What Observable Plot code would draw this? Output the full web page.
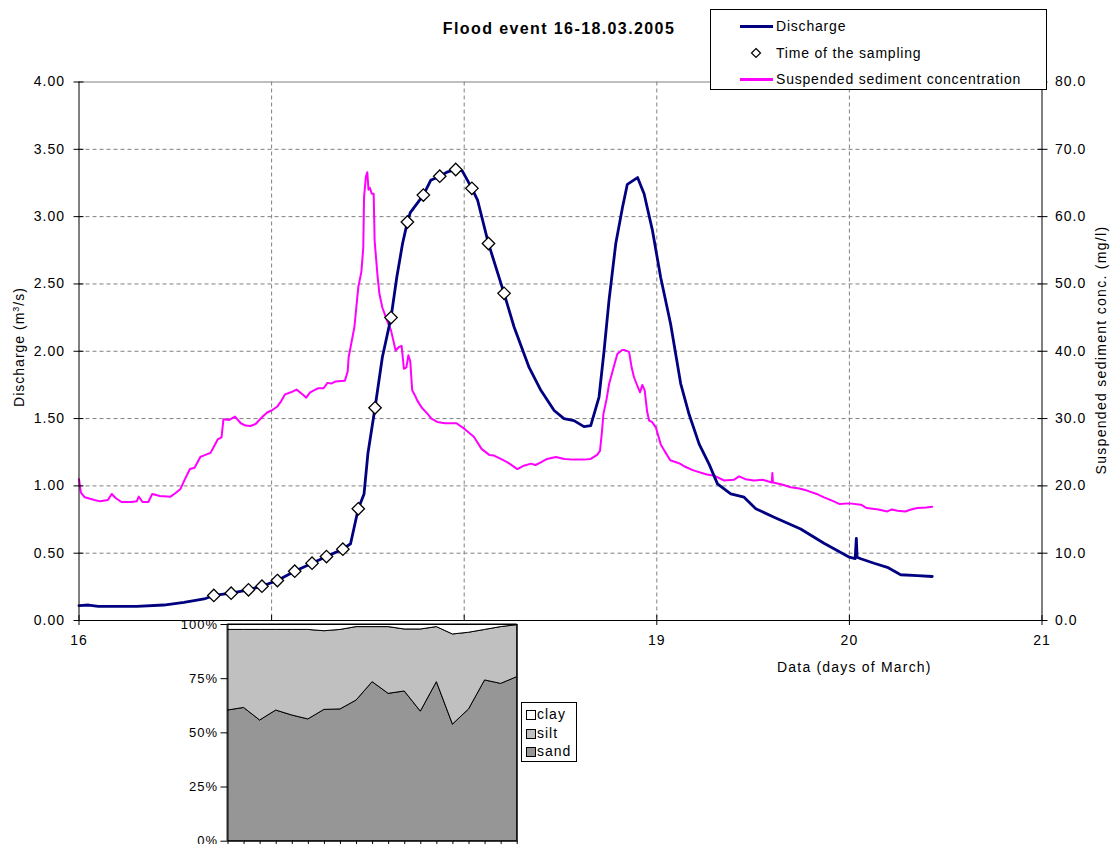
<!DOCTYPE html>
<html>
<head>
<meta charset="utf-8">
<script src="https://cdn.jsdelivr.net/npm/d3@7"></script>
<script src="https://cdn.jsdelivr.net/npm/@observablehq/plot@0.6"></script>
<style>
  html, body { margin: 0; padding: 0; background: white; }
  #wrap { position: relative; width: 1112px; height: 844px; overflow: hidden; font-family: "Liberation Sans", Arial, sans-serif; color: black; }
  .abs { position: absolute; white-space: nowrap; }
</style>
</head>
<body>
<div id="wrap"></div>
<script>
// ---------- Data ----------
// Discharge (m3/s)
const qDays = [16.00,16.05,16.10,16.30,16.44,16.545,16.65,16.70,16.79,16.88,16.95,17.03,17.12,17.21,17.285,17.37,17.41,17.45,17.48,17.50,17.537,17.575,17.62,17.65,17.68,17.705,17.72,17.788,17.826,17.873,17.91,17.956,17.99,18.04,18.07,18.126,18.207,18.259,18.337,18.398,18.467,18.518,18.57,18.622,18.657,18.70,18.726,18.752,18.787,18.822,18.847,18.90,18.934,18.977,19.02,19.072,19.124,19.168,19.22,19.272,19.315,19.384,19.453,19.514,19.609,19.747,19.868,20.00,20.03,20.036,20.04,20.059,20.128,20.197,20.266,20.353,20.43];
const qValues = [0.11,0.115,0.105,0.105,0.115,0.135,0.16,0.186,0.203,0.228,0.255,0.297,0.366,0.426,0.475,0.53,0.57,0.83,0.94,1.24,1.58,1.955,2.25,2.55,2.80,2.96,3.03,3.16,3.27,3.30,3.33,3.35,3.34,3.21,3.12,2.80,2.43,2.18,1.88,1.71,1.56,1.50,1.485,1.44,1.448,1.66,2.00,2.38,2.80,3.07,3.24,3.29,3.17,2.90,2.55,2.20,1.76,1.53,1.31,1.16,1.015,0.94,0.916,0.83,0.767,0.68,0.574,0.47,0.46,0.61,0.47,0.459,0.425,0.395,0.34,0.334,0.327];

// Time of the sampling
const sampleDays = [16.70,16.79,16.88,16.95,17.03,17.12,17.21,17.285,17.37,17.45,17.537,17.62,17.705,17.788,17.873,17.956,18.04,18.126,18.207];
const sampleQ = [0.186,0.203,0.228,0.255,0.297,0.366,0.426,0.475,0.53,0.83,1.58,2.25,2.96,3.16,3.30,3.35,3.21,2.80,2.43];

// Suspended sediment concentration (mg/l)
const sscDays = [16.00,16.01,16.03,16.08,16.11,16.15,16.17,16.19,16.22,16.27,16.30,16.31,16.33,16.36,16.38,16.42,16.475,16.50,16.527,16.55,16.576,16.60,16.63,16.683,16.70,16.72,16.74,16.75,16.78,16.81,16.84,16.865,16.89,16.917,16.95,16.977,17.00,17.03,17.05,17.07,17.10,17.13,17.16,17.18,17.20,17.24,17.27,17.29,17.31,17.33,17.38,17.395,17.40,17.43,17.45,17.466,17.476,17.48,17.49,17.497,17.503,17.51,17.52,17.53,17.535,17.55,17.56,17.575,17.60,17.62,17.644,17.66,17.675,17.687,17.70,17.71,17.72,17.73,17.745,17.756,17.78,17.81,17.83,17.86,17.90,17.96,18.00,18.05,18.09,18.13,18.155,18.19,18.225,18.25,18.276,18.31,18.346,18.37,18.398,18.43,18.476,18.52,18.57,18.62,18.657,18.69,18.705,18.715,18.723,18.74,18.752,18.77,18.795,18.82,18.83,18.856,18.87,18.882,18.90,18.913,18.925,18.937,18.95,18.96,18.975,18.995,19.02,19.04,19.07,19.10,19.12,19.15,19.19,19.26,19.30,19.35,19.40,19.427,19.46,19.505,19.55,19.597,19.60,19.603,19.65,19.695,19.74,19.78,19.83,19.868,19.91,19.95,20.00,20.06,20.09,20.15,20.197,20.22,20.25,20.29,20.32,20.353,20.40,20.43];
const sscValues = [21.0,19.0,18.3,17.9,17.7,17.9,18.8,18.2,17.6,17.6,17.7,18.4,17.6,17.6,18.8,18.5,18.4,18.9,19.55,21.0,22.5,22.7,24.3,24.9,25.8,26.9,27.2,29.9,29.8,30.3,29.3,28.96,28.9,29.2,30.2,30.9,31.2,31.8,32.6,33.6,33.9,34.3,33.6,33.1,33.9,34.5,34.5,35.3,35.2,35.5,35.6,37.0,39.1,43.6,49.5,51.8,55.4,62.9,66.0,66.6,64.0,64.3,63.4,63.4,56.4,51.2,48.5,46.5,44.5,43.1,40.1,40.6,40.8,37.4,37.6,39.4,38.5,34.2,33.4,32.7,31.6,30.7,30.0,29.5,29.3,29.3,28.5,27.3,25.5,24.6,24.5,24.0,23.5,23.0,22.5,23.0,23.3,23.1,23.5,24.0,24.3,24.0,23.9,23.9,24.0,24.6,25.2,28.0,30.7,33.0,35.1,37.0,39.6,40.2,40.2,39.9,37.5,36.1,34.8,33.9,35.0,34.2,31.0,29.7,29.5,28.7,26.2,25.2,23.8,23.5,23.3,22.8,22.3,21.7,21.5,20.8,20.9,21.4,21.0,20.8,20.9,20.5,21.9,20.5,20.2,19.8,19.6,19.3,18.8,18.3,17.8,17.3,17.4,17.2,16.7,16.5,16.2,16.5,16.3,16.2,16.5,16.7,16.8,16.9];

// Axis ticks
const qTicks = [0,0.5,1,1.5,2,2.5,3,3.5,4];
const dayTicks = [16,17,18,19,20,21];
const hiddenDayLabels = [17,18];   // covered by the inset chart in the original
const sscPerQ = 20;                // right axis 0-80 mg/l over left axis 0-4 m3/s

// Inset: grain size composition (%) for each of the 19 samples
const sampleIndex = d3.range(1, 20);
const sand = [60.3,61.5,55.7,60.3,58.0,56.2,60.6,60.8,64.9,73.4,68.0,69.1,59.8,73.4,53.8,60.8,74.2,72.6,75.7];
const silt = [37.2,36.0,41.8,37.2,39.5,41.3,36.3,36.7,33.9,25.4,30.8,28.6,37.9,25.4,41.6,35.4,23.3,26.2,24.0];
const clay = [2.5,2.5,2.5,2.5,2.5,2.5,3.1,2.5,1.2,1.2,1.2,2.3,2.3,1.2,4.6,3.8,2.5,1.2,0.3];
const fractions = ["sand", "silt", "clay"];
const pctTicks = [0,25,50,75,100];

// ---------- Build tables ----------
const qData = qDays.map((d, i) => ({day: d, q: qValues[i]}));
const sscData = sscDays.map((d, i) => ({day: d, ssc: sscValues[i]}));
const samples = sampleDays.map((d, i) => ({day: d, q: sampleQ[i]}));
const comp = [];
sampleIndex.forEach((k, i) => {
  comp.push({k, fraction: "sand", pct: sand[i]});
  comp.push({k, fraction: "silt", pct: silt[i]});
  comp.push({k, fraction: "clay", pct: clay[i]});
});

const fontStyle = {fontFamily: "'Liberation Sans', Arial, sans-serif", fontSize: "14px", letterSpacing: "1px", background: "white", overflow: "visible"};
const grid = {stroke: "#808080", strokeOpacity: 1, strokeDasharray: "4,3", strokeWidth: 1};

const main = Plot.plot({
  width: 1112, height: 844,
  marginLeft: 78.5, marginRight: 70.5, marginTop: 81.5, marginBottom: 224,
  x: {domain: [16, 21]},
  y: {domain: [0, 4]},
  style: fontStyle,
  marks: [
    Plot.gridY(qTicks.filter(d => d > 0 && d < 4), grid),
    Plot.gridX(dayTicks.filter(d => d > 16 && d < 21), grid),
    Plot.ruleY([4], {stroke: "#808080"}),
    Plot.line(sscData, {x: "day", y: d => d.ssc / sscPerQ, stroke: "#ff00ff", strokeWidth: 2}),
    Plot.line(qData, {x: "day", y: "q", stroke: "#000080", strokeWidth: 2.8}),
    Plot.dot(samples, {x: "day", y: "q", symbol: "diamond2", r: 5.6, fill: "white", stroke: "black", strokeWidth: 1.3}),
    Plot.ruleX([16, 21], {stroke: "black"}),
    Plot.ruleY([0], {stroke: "black"}),
    Plot.axisY(qTicks, {anchor: "left", tickSize: 10, dx: 5, tickPadding: 9, tickFormat: d => d.toFixed(2), label: null}),
    Plot.axisY(qTicks, {anchor: "right", tickSize: 10, dx: -5, tickPadding: 8, tickFormat: d => (d * sscPerQ).toFixed(1), label: null}),
    Plot.axisX(dayTicks, {anchor: "bottom", tickSize: 10, dy: -5, tickPadding: 10, tickFormat: d => hiddenDayLabels.includes(d) ? "" : String(d), label: null})
  ]
});

const wrap = document.getElementById("wrap");
main.style.position = "absolute";
main.style.left = "0px";
main.style.top = "0px";
wrap.appendChild(main);

// Inset chart
const inset = Plot.plot({
  width: 440, height: 223,
  marginLeft: 77.5, marginRight: 73.3, marginTop: 3, marginBottom: 3.3,
  x: {domain: [1, 19]},
  y: {domain: [0, 100]},
  color: {domain: fractions, range: ["#969696", "#c0c0c0", "#ffffff"]},
  style: {fontFamily: "'Liberation Sans', Arial, sans-serif", fontSize: "13px", letterSpacing: "1px", background: "white"},
  marks: [
    Plot.areaY(comp, {x: "k", y: "pct", z: "fraction", fill: "fraction", stroke: "black", strokeWidth: 1, order: fractions}),
    Plot.frame({stroke: "black"}),
    Plot.axisY(pctTicks, {anchor: "left", tickSize: 7, tickPadding: 3, tickFormat: d => d + "%", label: null}),
    Plot.axisX(sampleIndex, {anchor: "bottom", tickSize: 4, tickFormat: () => "", label: null})
  ]
});
inset.style.position = "absolute";
inset.style.left = "150px";
inset.style.top = "621px";
inset.style.overflow = "hidden";
wrap.appendChild(inset);

// ---------- Text overlays ----------
function addDiv(html, css) {
  const el = document.createElement("div");
  el.className = "abs";
  el.innerHTML = html;
  Object.assign(el.style, css);
  wrap.appendChild(el);
  return el;
}

addDiv("Flood event 16-18.03.2005", {left: "559px", top: "29px", transform: "translate(-50%,-50%)", fontSize: "16px", fontWeight: "bold", letterSpacing: "1.4px"});
addDiv("Discharge (m<sup style='font-size:9px;vertical-align:5px'>3</sup>/s)", {left: "19px", top: "347px", transform: "translate(-50%,-50%) rotate(-90deg)", fontSize: "14px", letterSpacing: "1px"});
addDiv("Suspended sediment conc. (mg/l)", {left: "1101px", top: "350px", transform: "translate(-50%,-50%) rotate(-90deg)", fontSize: "14px", letterSpacing: "1.3px"});
addDiv("Data (days of March)", {left: "777px", top: "659px", fontSize: "14px", letterSpacing: "1.2px"});

// Main legend
const leg = addDiv("", {left: "710px", top: "9px", width: "335px", height: "79px", border: "1px solid black", background: "white"});
const items = [
  {label: "Discharge", kind: "line", color: "#000080"},
  {label: "Time of the sampling", kind: "diamond"},
  {label: "Suspended sediment concentration", kind: "line", color: "#ff00ff"}
];
items.forEach((it, i) => {
  const cy = 16 + i * 26.5;
  const row = document.createElement("div");
  row.style.cssText = `position:absolute;left:0;top:${cy - 10}px;height:20px;width:335px;`;
  if (it.kind === "line") {
    row.innerHTML = `<div style="position:absolute;left:29px;top:9px;width:33px;height:3px;background:${it.color}"></div>`;
  } else {
    row.innerHTML = `<svg style="position:absolute;left:39px;top:4px" width="12" height="12"><path d="M6,1.5L10.5,6L6,10.5L1.5,6Z" fill="white" stroke="black" stroke-width="1.2"/></svg>`;
  }
  const t = document.createElement("div");
  t.textContent = it.label;
  t.style.cssText = "position:absolute;left:65px;top:1px;font-size:14px;letter-spacing:0.8px;white-space:nowrap;line-height:18px;";
  row.appendChild(t);
  leg.appendChild(row);
});

// Inset legend
const ileg = addDiv("", {left: "521px", top: "702px", width: "54px", height: "58px", border: "1px solid black", background: "white"});
const iItems = [["clay", "#ffffff"], ["silt", "#c0c0c0"], ["sand", "#969696"]];
iItems.forEach(([name, col], i) => {
  const row = document.createElement("div");
  row.style.cssText = `position:absolute;left:0;top:${3 + i * 18.5}px;height:18px;width:54px;`;
  row.innerHTML = `<div style="position:absolute;left:4px;top:4px;width:8px;height:8px;border:1px solid black;background:${col}"></div>` +
    `<div style="position:absolute;left:15px;top:0px;font-size:14px;letter-spacing:1px;line-height:17px">${name}</div>`;
  ileg.appendChild(row);
});
</script>
</body>
</html>
